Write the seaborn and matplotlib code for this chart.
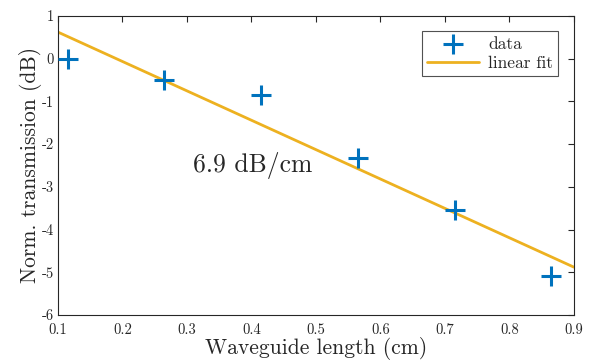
import matplotlib
matplotlib.use("Agg")
import matplotlib.pyplot as plt
import seaborn as sns
import pandas as pd

length_cm = [0.115, 0.265, 0.415, 0.565, 0.715, 0.865]
transmission_db = [0.0, -0.49, -0.85, -2.33, -3.54, -5.09]
fit_x = [0.1, 0.9]
fit_y = [0.62, -4.88]
x_ticks = [0.1, 0.2, 0.3, 0.4, 0.5, 0.6, 0.7, 0.8, 0.9]
y_ticks = [-6, -5, -4, -3, -2, -1, 0, 1]
annotation = "6.9 dB/cm"

sns.set_style("white")
plt.rcParams["font.family"] = ["cmr10", "DejaVu Serif"]
plt.rcParams["mathtext.fontset"] = "cm"
plt.rcParams["axes.formatter.use_mathtext"] = True
plt.rcParams["axes.unicode_minus"] = False

blue = "#0072BD"
gold = "#EDB120"

fig = plt.figure(figsize=(5.91, 3.6), dpi=100)
ax = fig.add_axes([0.098, 0.125, 0.873, 0.831])

df = pd.DataFrame({"x": length_cm, "y": transmission_db})
fdf = pd.DataFrame({"x": fit_x, "y": fit_y})

sns.lineplot(data=fdf, x="x", y="y", ax=ax, color=gold, linewidth=2, label="linear fit", zorder=2)
sns.scatterplot(data=df, x="x", y="y", ax=ax, marker="+", s=220, linewidth=2.2, color=blue, label="data", zorder=3)

ax.set_xlim(0.1, 0.9)
ax.set_ylim(-6, 1)
ax.set_xticks(x_ticks)
ax.set_yticks(y_ticks)
ax.set_xticklabels([f"{t:g}" for t in x_ticks])
ax.set_yticklabels([f"{t:g}" for t in y_ticks])
ax.tick_params(direction="in", top=True, right=True, length=4, width=0.8, colors="#262626",
               labelsize=10.5, labelcolor="#262626", pad=3)
ax.tick_params(axis="x", pad=6)
for s in ax.spines.values():
    s.set_color("#262626")
    s.set_linewidth(0.8)
ax.set_xlabel("Waveguide length (cm)", fontsize=15.5, labelpad=0, color="#262626")
ax.set_ylabel("Norm. transmission (dB)", fontsize=15.5, labelpad=0, color="#262626")

ax.text(0.31, -2.5, annotation, fontsize=18.5, va="center", ha="left", color="#262626")

handles, labels = ax.get_legend_handles_labels()
order = [labels.index("data"), labels.index("linear fit")]
leg = ax.legend([handles[i] for i in order], [labels[i] for i in order], loc="upper right",
                fontsize=12.5, frameon=True, fancybox=False, edgecolor="#262626",
                borderaxespad=0.9, handlelength=3.0, borderpad=0.3, labelspacing=0.2,
                handletextpad=0.5)
leg.get_frame().set_linewidth(0.8)

fig.savefig("out.png", dpi=100)
